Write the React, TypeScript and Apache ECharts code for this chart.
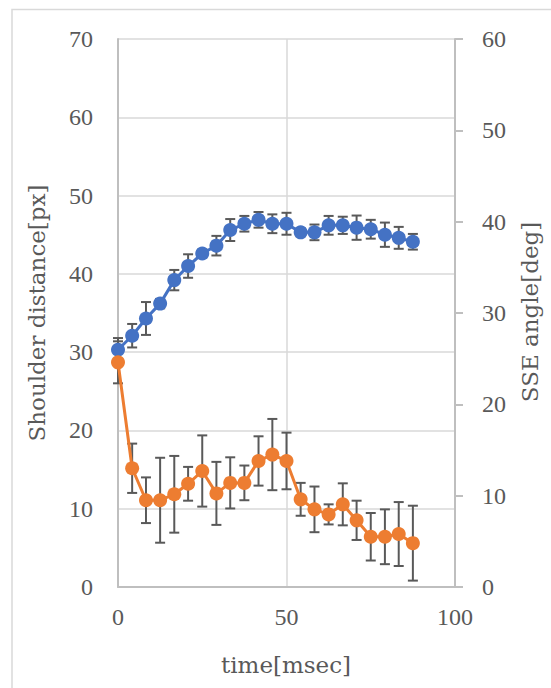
import React, { useEffect, useRef } from "react";
import * as echarts from "echarts";

const timeMs = [0, 4.2, 8.3, 12.5, 16.7, 20.8, 25, 29.2, 33.3, 37.5, 41.7, 45.8, 50, 54.2, 58.3, 62.5, 66.7, 70.8, 75, 79.2, 83.3, 87.5];
const shoulder = [30.3, 32.1, 34.3, 36.2, 39.2, 41.0, 42.6, 43.6, 45.6, 46.4, 46.9, 46.4, 46.4, 45.3, 45.3, 46.2, 46.2, 45.9, 45.7, 45.0, 44.6, 44.1];
const shoulderErr = [1.5, 1.5, 2.1, 0.6, 1.3, 1.5, 0.5, 1.25, 1.4, 1.0, 1.0, 1.2, 1.4, 0.5, 1.0, 1.2, 1.1, 1.55, 1.2, 1.55, 1.4, 1.0];
const angle = [24.6, 13.0, 9.5, 9.5, 10.15, 11.3, 12.7, 10.25, 11.4, 11.4, 13.8, 14.5, 13.8, 9.6, 8.5, 7.95, 9.05, 7.3, 5.5, 5.5, 5.8, 4.8];
const angleErr = [2.3, 2.7, 2.5, 4.65, 4.2, 1.85, 3.9, 3.45, 2.8, 1.9, 2.7, 3.9, 3.1, 1.8, 2.5, 1.1, 2.3, 2.15, 2.6, 3.0, 3.5, 4.1];

const xName = "time[msec]";
const leftName = "Shoulder distance[px]";
const rightName = "SSE angle[deg]";

const TEXT = "#595959";
const AXIS = "#bfbfbf";
const GRID = "#d9d9d9";
const BLUE = "#4472C4";
const ORANGE = "#ED7D31";
const TICK_FONT = "'Liberation Serif', serif";
const NAME_FONT = "'DejaVu Serif', serif";

function errRender(params: any, api: any) {
  const x = api.value(0);
  const lo = api.value(1);
  const hi = api.value(2);
  const p1 = api.coord([x, hi]);
  const p2 = api.coord([x, lo]);
  const w = 5;
  const style = { stroke: "#595959", lineWidth: 2 };
  return {
    type: "group",
    children: [
      { type: "line", shape: { x1: p1[0], y1: p1[1], x2: p2[0], y2: p2[1] }, style },
      { type: "line", shape: { x1: p1[0] - w, y1: p1[1], x2: p1[0] + w, y2: p1[1] }, style },
      { type: "line", shape: { x1: p2[0] - w, y1: p2[1], x2: p2[0] + w, y2: p2[1] }, style },
    ],
  };
}

export default function App() {
  const ref = useRef<HTMLDivElement>(null);
  useEffect(() => {
    if (!ref.current) return;
    const chart = echarts.init(ref.current, null, { renderer: "svg" });
    const blueErr = timeMs.map((t, i) => [t, shoulder[i] - shoulderErr[i], shoulder[i] + shoulderErr[i]]);
    const orangeErr = timeMs.map((t, i) => [t, angle[i] - angleErr[i], angle[i] + angleErr[i]]);
    chart.setOption({
      animation: false,
      backgroundColor: "#ffffff",
      grid: { left: 118, right: 96, top: 39, bottom: 101, containLabel: false },
      xAxis: {
        type: "value",
        min: 0,
        max: 100,
        interval: 50,
        axisLine: { show: true, lineStyle: { color: AXIS, width: 2 } },
        axisTick: { show: false },
        splitLine: { show: true, lineStyle: { color: GRID, width: 1.5 } },
        axisLabel: { color: TEXT, fontFamily: TICK_FONT, fontSize: 24, margin: 18 },
      },
      yAxis: [
        {
          type: "value",
          min: 0,
          max: 70,
          interval: 10,
          axisLine: { show: true, lineStyle: { color: AXIS, width: 2 } },
          axisTick: { show: false },
          splitLine: { show: true, lineStyle: { color: GRID, width: 1.5 } },
          axisLabel: { color: TEXT, fontFamily: TICK_FONT, fontSize: 24, margin: 25 },
        },
        {
          type: "value",
          position: "right",
          min: 0,
          max: 60,
          interval: 10,
          axisLine: { show: true, lineStyle: { color: AXIS, width: 2 } },
          axisTick: { show: true, length: 8, inside: false, lineStyle: { color: AXIS, width: 2 } },
          splitLine: { show: false },
          axisLabel: { color: TEXT, fontFamily: TICK_FONT, fontSize: 24, margin: 27 },
        },
      ],
      graphic: [
        {
          type: "rect",
          silent: true,
          z: -10,
          shape: { x: 12, y: 9.5, width: 700, height: 800 },
          style: { fill: "none", stroke: GRID, lineWidth: 1.5 },
        },
        {
          type: "text",
          x: 286,
          y: 665,
          style: { text: xName, fill: TEXT, font: `23px ${NAME_FONT}`, align: "center", verticalAlign: "middle" },
        },
        {
          type: "text",
          x: 37,
          y: 313,
          rotation: Math.PI / 2,
          style: { text: leftName, fill: TEXT, font: `23px ${NAME_FONT}`, align: "center", verticalAlign: "middle" },
        },
        {
          type: "text",
          x: 530,
          y: 312,
          rotation: Math.PI / 2,
          style: { text: rightName, fill: TEXT, font: `23px ${NAME_FONT}`, align: "center", verticalAlign: "middle" },
        },
      ],
      series: [
        {
          type: "custom",
          name: "shoulderErr",
          xAxisIndex: 0,
          yAxisIndex: 0,
          renderItem: errRender,
          encode: { x: 0, y: [1, 2] },
          data: blueErr,
          silent: true,
        },
        {
          type: "line",
          name: leftName,
          xAxisIndex: 0,
          yAxisIndex: 0,
          data: timeMs.map((t, i) => [t, shoulder[i]]),
          symbol: "circle",
          symbolSize: 14,
          lineStyle: { color: BLUE, width: 3 },
          itemStyle: { color: BLUE },
        },
        {
          type: "custom",
          name: "angleErr",
          xAxisIndex: 0,
          yAxisIndex: 1,
          renderItem: errRender,
          encode: { x: 0, y: [1, 2] },
          data: orangeErr,
          silent: true,
        },
        {
          type: "line",
          name: rightName,
          xAxisIndex: 0,
          yAxisIndex: 1,
          data: timeMs.map((t, i) => [t, angle[i]]),
          symbol: "circle",
          symbolSize: 14,
          lineStyle: { color: ORANGE, width: 3 },
          itemStyle: { color: ORANGE },
        },
      ],
    });
    return () => chart.dispose();
  }, []);
  return (
    <div
      ref={ref}
      style={{ position: "fixed", left: 0, top: 0, width: 551, height: 688, background: "#fff" }}
    />
  );
}
